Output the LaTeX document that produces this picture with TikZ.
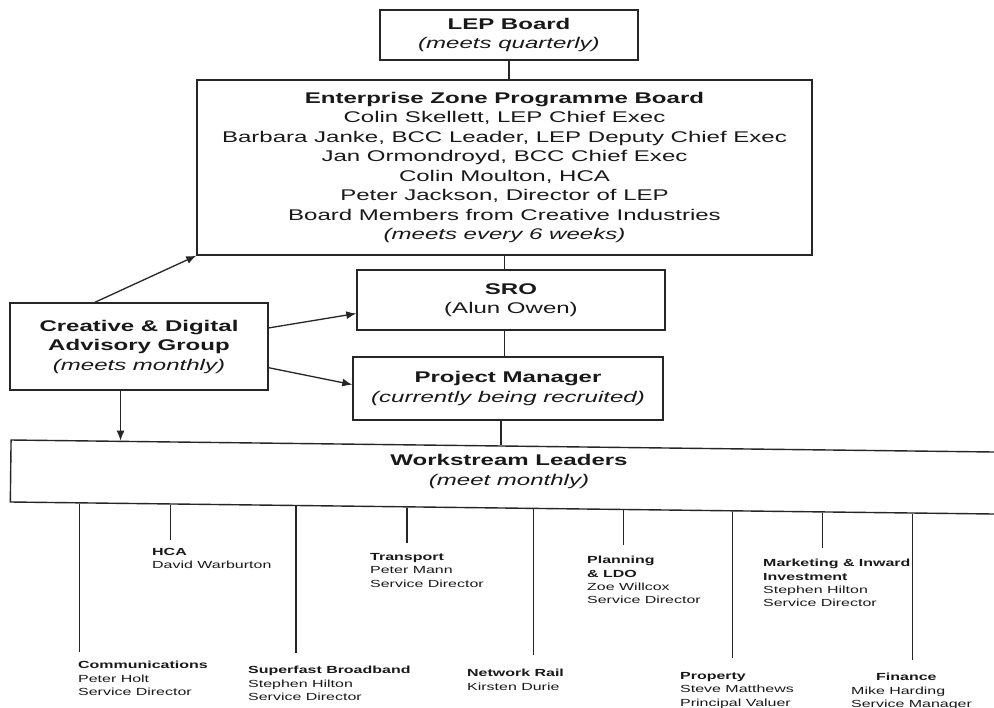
\documentclass[tikz,border=0pt]{standalone}
\usepackage{fontspec}
\setmainfont[FakeStretch=1.55]{Liberation Sans}
\usetikzlibrary{calc,arrows.meta}
\newcommand\bigtxt{\fontsize{15.5}{19.5}\selectfont}
\newcommand\smtxt{\fontsize{10.3}{13.4}\selectfont}
\begin{document}
\begin{tikzpicture}[x=1pt,y=-1pt,
  box/.style={draw=black!85, line width=1.4pt, inner sep=0pt, align=center, font=\bigtxt, text=black!90},
  conn/.style={draw=black!85, line width=1.3pt},
  arr/.style={conn, -{Latex[length=10pt,width=8pt]}},
  lbl/.style={anchor=north west, align=left, inner sep=0pt, font=\smtxt, text=black!90}]
\useasboundingbox (0,0) rectangle (994,708);
\clip (0,0) rectangle (994,708);
\fill[white] (0,0) rectangle (994,708);

\node[box, minimum width=258pt, minimum height=50pt] (LEP) at (509,35)
  {\textbf{LEP Board}\\\textit{(meets quarterly)}};
\node[box, minimum width=615pt, minimum height=175pt] (EZ) at (504.5,167.5)
  {\textbf{Enterprise Zone Programme Board}\\Colin Skellett, LEP Chief Exec\\Barbara Janke, BCC Leader, LEP Deputy Chief Exec\\Jan Ormondroyd, BCC Chief Exec\\Colin Moulton, HCA\\Peter Jackson, Director of LEP\\Board Members from Creative Industries\\\textit{(meets every 6 weeks)}};
\node[box, minimum width=308pt, minimum height=60pt] (SRO) at (511,300)
  {\textbf{SRO}\\(Alun Owen)};
\node[box, minimum width=310pt, minimum height=63pt] (PM) at (508,388.5)
  {\textbf{Project Manager}\\\textit{(currently being recruited)}};
\node[box, minimum width=258pt, minimum height=87pt] (CD) at (139,346.5)
  {\textbf{Creative \& Digital}\\\textbf{Advisory Group}\\\textit{(meets monthly)}};
\node[draw=black!85, line width=1.4pt, inner sep=0pt, minimum width=1000pt, minimum height=62pt,
  anchor=west, rotate=-0.7] (WL) at (10,471) {};
\node[inner sep=0pt, align=center, font=\bigtxt, text=black!90] (WLt) at (509,471.5)
  {\textbf{Workstream Leaders}\\\textit{(meet monthly)}};

% connectors
\draw[conn] (LEP.south) -- (LEP.south |- EZ.north);
\draw[conn] (EZ.south) -- (EZ.south |- SRO.north);
\draw[conn] (EZ.south |- SRO.south) -- (EZ.south |- PM.north);
\coordinate (pmwl) at ($(WL.north west)!0.49!(WL.north east)$);
\draw[conn] (pmwl |- PM.south) -- (pmwl);
\draw[arr] ($(CD.north west)!0.33!(CD.north east)$) -- (EZ.south west);
\draw[arr] ($(CD.north east)!0.29!(CD.south east)$) -- ($(SRO.north west)!0.72!(SRO.south west)$);
\draw[arr] ($(CD.north east)!0.74!(CD.south east)$) -- ($(PM.north west)!0.44!(PM.south west)$);
\coordinate (cdwl) at ($(WL.north west)!0.11!(WL.north east)$);
\draw[arr] (cdwl |- CD.south) -- (cdwl);

% drops
\coordinate (t1) at ($(WL.south west)!0.070!(WL.south east)$);
\coordinate (t2) at ($(WL.south west)!0.161!(WL.south east)$);
\coordinate (t3) at ($(WL.south west)!0.286!(WL.south east)$);
\coordinate (t4) at ($(WL.south west)!0.397!(WL.south east)$);
\coordinate (t5) at ($(WL.south west)!0.523!(WL.south east)$);
\coordinate (t6) at ($(WL.south west)!0.613!(WL.south east)$);
\coordinate (t7) at ($(WL.south west)!0.722!(WL.south east)$);
\coordinate (t8) at ($(WL.south west)!0.812!(WL.south east)$);
\coordinate (t9) at ($(WL.south west)!0.902!(WL.south east)$);
\coordinate (e1) at (80,652);
\coordinate (e2) at (171,540);
\coordinate (e3) at (296,653);
\coordinate (e4) at (407,543);
\coordinate (e5) at (533,655);
\coordinate (e6) at (623,545);
\coordinate (e7) at (732,658);
\coordinate (e8) at (822,548);
\coordinate (e9) at (912,660);
\foreach \i in {1,...,9} {\draw[conn] (t\i) -- (t\i |- e\i);}

% labels
\node[lbl] (comm) at (78,661) {\textbf{Communications}\\Peter Holt\\Service Director};
\node[lbl] (hca) at (152,548) {\textbf{HCA}\\David Warburton};
\node[lbl] (broad) at (248,666) {\textbf{Superfast Broadband}\\Stephen Hilton\\Service Director};
\node[lbl] (trans) at (370,553) {\textbf{Transport}\\Peter Mann\\Service Director};
\node[lbl] (rail) at (467,669) {\textbf{Network Rail}\\Kirsten Durie};
\node[lbl] (plan) at (587,556) {\textbf{Planning}\\\textbf{\& LDO}\\Zoe Willcox\\Service Director};
\node[lbl] (prop) at (680,672) {\textbf{Property}\\Steve Matthews\\Principal Valuer};
\node[lbl] (mkt) at (763,559) {\textbf{Marketing \& Inward}\\\textbf{Investment}\\Stephen Hilton\\Service Director};
\node[lbl] (fin) at (851,673) {\hspace*{25pt}\textbf{Finance}\\Mike Harding\\Service Manager};
\end{tikzpicture}
\end{document}
